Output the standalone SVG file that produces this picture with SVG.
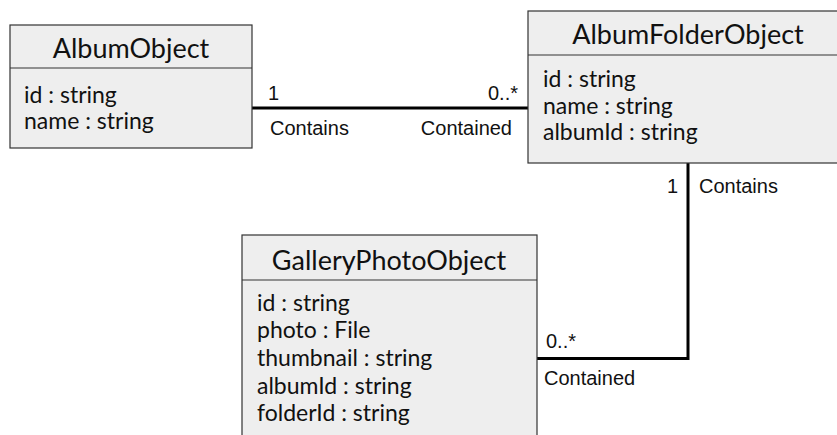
<svg xmlns="http://www.w3.org/2000/svg" width="837" height="435" viewBox="0 0 837 435">
  <style>
    .box { fill: #eeeeee; stroke: #333333; stroke-width: 1.2; }
    .div { stroke: #333333; stroke-width: 1.2; }
    .title { font-family: Lato, "Open Sans", sans-serif; font-size: 27px; fill: #111111; text-anchor: middle; }
    .attr { font-family: Lato, "Open Sans", sans-serif; font-size: 23px; fill: #111111; }
    .lbl { font-family: "Liberation Sans", Arial, sans-serif; font-size: 20px; fill: #111111; }
    .end { text-anchor: end; }
    .link { fill: none; stroke: #000000; stroke-width: 3; }
  </style>

  <!-- Associations -->
  <g id="connectors">
    <line class="link" x1="252" y1="108" x2="528" y2="108"/>
    <polyline class="link" points="688,163 688,358.5 537,358.5"/>
    <text class="lbl" x="268" y="100">1</text>
    <text class="lbl" x="270" y="135">Contains</text>
    <text class="lbl end" x="518" y="100">0..*</text>
    <text class="lbl end" x="512" y="135">Contained</text>
    <text class="lbl end" x="678" y="193">1</text>
    <text class="lbl" x="699" y="193">Contains</text>
    <text class="lbl" x="546" y="348">0..*</text>
    <text class="lbl" x="544" y="385">Contained</text>
  </g>

  <g id="album-object">
    <rect class="box" x="10" y="25" width="242" height="123"/>
    <line class="div" x1="10" y1="68" x2="252" y2="68"/>
    <text class="title" x="131" y="58">AlbumObject</text>
    <text class="attr" x="24" y="103">id : string</text>
    <text class="attr" x="24" y="129">name : string</text>
  </g>

  <g id="album-folder-object">
    <rect class="box" x="528" y="11" width="320" height="152"/>
    <line class="div" x1="528" y1="55" x2="848" y2="55"/>
    <text class="title" x="688" y="44">AlbumFolderObject</text>
    <text class="attr" x="543" y="87">id : string</text>
    <text class="attr" x="543" y="114">name : string</text>
    <text class="attr" x="543" y="140">albumId : string</text>
  </g>

  <g id="gallery-photo-object">
    <rect class="box" x="242" y="235" width="295" height="220"/>
    <line class="div" x1="242" y1="280" x2="537" y2="280"/>
    <text class="title" x="389" y="270">GalleryPhotoObject</text>
    <text class="attr" x="257" y="311">id : string</text>
    <text class="attr" x="257" y="338">photo : File</text>
    <text class="attr" x="257" y="366">thumbnail : string</text>
    <text class="attr" x="257" y="394">albumId : string</text>
    <text class="attr" x="257" y="421">folderId : string</text>
  </g>
</svg>
